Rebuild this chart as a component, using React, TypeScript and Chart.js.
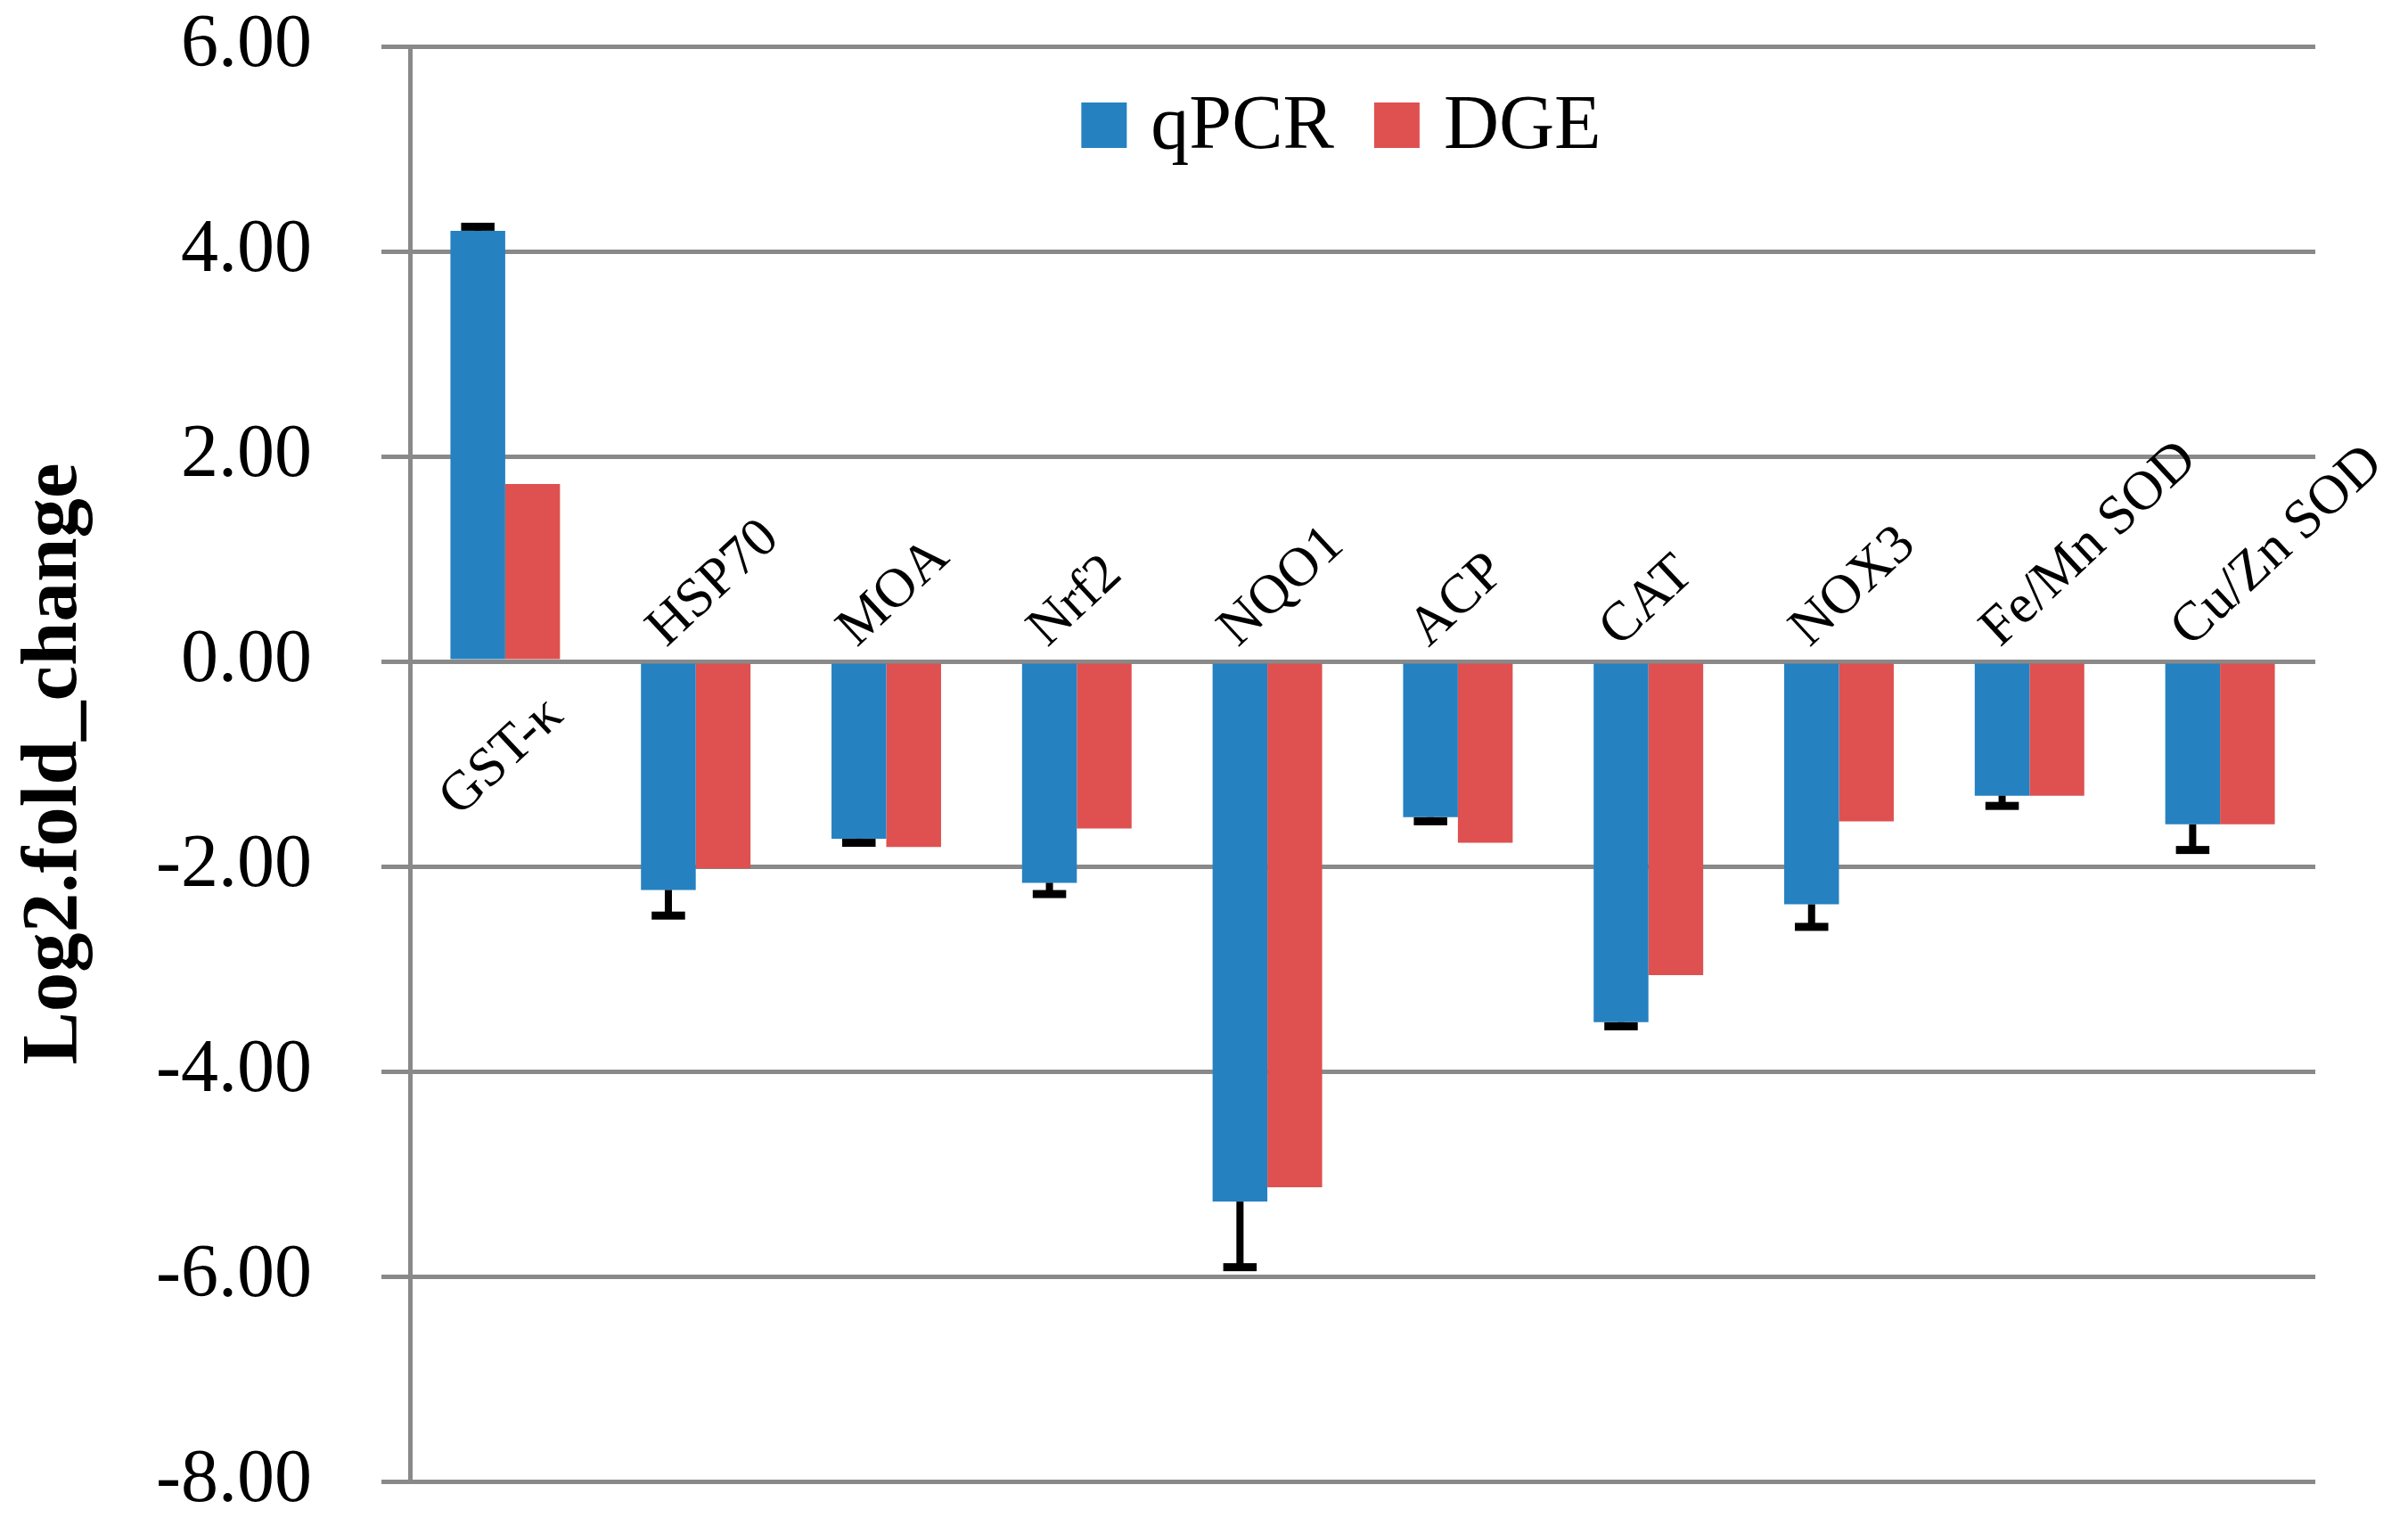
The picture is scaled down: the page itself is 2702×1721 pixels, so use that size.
import React, { useEffect, useRef } from "react";
import { Chart, registerables } from "chart.js";

Chart.register(...registerables);

const categories = ["GST-κ", "HSP70", "MOA", "Nrf2", "NQO1", "ACP", "CAT", "NOX3", "Fe/Mn SOD", "Cu/Zn SOD"];
const qpcrValues = [4.2, -2.23, -1.73, -2.16, -5.27, -1.52, -3.52, -2.37, -1.31, -1.59];
const qpcrErrors = [0.04, 0.25, 0.04, 0.11, 0.64, 0.04, 0.04, 0.22, 0.1, 0.25];
const dgeValues = [1.73, -2.02, -1.81, -1.63, -5.13, -1.77, -3.06, -1.56, -1.31, -1.59];
const yTicks = [6, 4, 2, 0, -2, -4, -6, -8];

const FAMILY = "'Liberation Serif', 'Times New Roman', serif";
const BLUE = "#2681c1";
const RED = "#de5150";
const GRID = "#898989";
const ANGLE = (43 * Math.PI) / 180;

const errorBarPlugin = {
  id: "errorBars",
  afterDatasetsDraw(chart: any) {
    const { ctx } = chart;
    const ys = chart.scales.y;
    const meta = chart.getDatasetMeta(0);
    ctx.save();
    ctx.fillStyle = "#000";
    meta.data.forEach((el: any, i: number) => {
      const v = qpcrValues[i];
      const e = qpcrErrors[i];
      const sign = v >= 0 ? 1 : -1;
      const yEnd = ys.getPixelForValue(v + sign * e);
      const yStart = el.y;
      const stemW = 8;
      const capW = el.width * 0.61;
      const capH = 9;
      const top = Math.min(yStart, yEnd);
      const h = Math.abs(yEnd - yStart);
      ctx.fillRect(el.x - stemW / 2, top, stemW, h);
      ctx.fillRect(el.x - capW / 2, yEnd - capH / 2, capW, capH);
    });
    ctx.restore();
  },
};

const categoryLabelPlugin = {
  id: "categoryLabels",
  afterDraw(chart: any) {
    const { ctx } = chart;
    const xs = chart.scales.x;
    const ys = chart.scales.y;
    const zero = ys.getPixelForValue(0);
    ctx.save();
    ctx.font = `62px ${FAMILY}`;
    ctx.fillStyle = "#000";
    ctx.textBaseline = "alphabetic";
    ctx.textAlign = "left";
    (chart.data.labels as string[]).forEach((label, i) => {
      const cx = xs.getPixelForValue(i);
      const negative = qpcrValues[i] < 0;
      ctx.save();
      if (negative) {
        ctx.translate(cx - 33, zero - 15);
      } else {
        ctx.translate(cx - 52, zero + 175);
      }
      ctx.rotate(-ANGLE);
      ctx.fillText(label, 0, 0);
      ctx.restore();
    });
    ctx.restore();
  },
};

const legendPlugin = {
  id: "insideLegend",
  afterDraw(chart: any) {
    const { ctx, chartArea } = chart;
    ctx.save();
    ctx.font = `86px ${FAMILY}`;
    ctx.textAlign = "left";
    ctx.textBaseline = "alphabetic";
    const box = 51;
    const gapText = 27;
    const gapItem = 45;
    const items = chart.data.datasets.map((d: any) => ({
      label: d.label as string,
      color: d.backgroundColor as string,
      w: ctx.measureText(d.label).width,
    }));
    const total = items.reduce(
      (s: number, it: any, i: number) => s + box + gapText + it.w + (i > 0 ? gapItem : 0),
      0
    );
    let x = (chartArea.left + chartArea.right) / 2 - 24 - total / 2;
    const baseline = chartArea.top + 114;
    items.forEach((it: any, i: number) => {
      if (i > 0) x += gapItem;
      ctx.fillStyle = it.color;
      ctx.fillRect(x, baseline - box, box, box);
      x += box + gapText;
      ctx.fillStyle = "#000";
      ctx.fillText(it.label, x, baseline);
      x += it.w;
    });
    ctx.restore();
  },
};

export default function App() {
  const ref = useRef<HTMLCanvasElement>(null);
  useEffect(() => {
    document.body.style.margin = "0";
    document.body.style.overflow = "hidden";
    const chart = new Chart(ref.current as HTMLCanvasElement, {
      type: "bar",
      data: {
        labels: categories,
        datasets: [
          {
            label: "qPCR",
            data: qpcrValues,
            backgroundColor: BLUE,
            borderWidth: 0,
            categoryPercentage: 0.575,
            barPercentage: 1,
          },
          {
            label: "DGE",
            data: dgeValues,
            backgroundColor: RED,
            borderWidth: 0,
            categoryPercentage: 0.575,
            barPercentage: 1,
          },
        ],
      },
      options: {
        animation: false,
        responsive: true,
        maintainAspectRatio: false,
        devicePixelRatio: 1,
        layout: { padding: { left: 0, top: 52, right: 104, bottom: 59 } },
        plugins: {
          legend: { display: false },
          tooltip: { enabled: false },
          title: { display: false },
        },
        scales: {
          x: {
            display: false,
            grid: { display: false },
          },
          y: {
            min: -8,
            max: 6,
            afterFit: (s: any) => {
              s.width = 460;
              s.paddingTop = 0;
              s.paddingBottom = 0;
            },
            afterBuildTicks: (s: any) => {
              s.ticks = yTicks.map((v) => ({ value: v }));
            },
            ticks: {
              font: { family: FAMILY, size: 84 },
              color: "#000",
              padding: 78,
              callback: (v: any) => Number(v).toFixed(2),
            },
            grid: { color: GRID, lineWidth: 5, tickLength: 32, drawTicks: true },
            border: { display: true, color: GRID, width: 5 },
            title: {
              display: true,
              text: "Log2.fold_change",
              font: { family: FAMILY, size: 89, weight: "bold" },
              color: "#000",
              padding: { top: 9, bottom: 0 },
            },
          },
        },
      },
      plugins: [errorBarPlugin, categoryLabelPlugin, legendPlugin],
    } as any);
    return () => chart.destroy();
  }, []);
  return (
    <div style={{ width: 2702, height: 1721, position: "relative" }}>
      <canvas ref={ref} />
    </div>
  );
}
